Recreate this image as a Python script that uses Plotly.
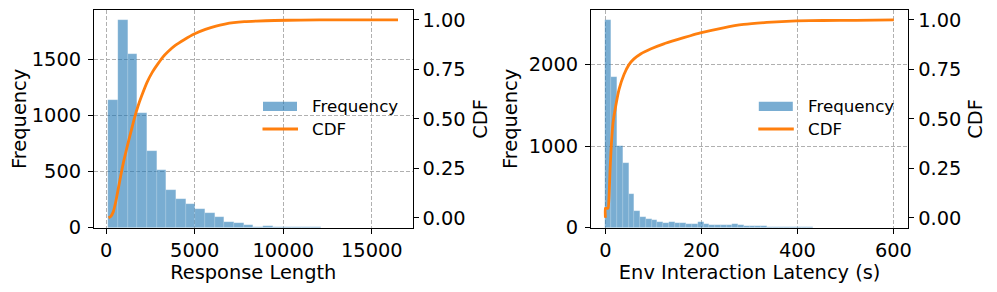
import numpy as np
import plotly.graph_objects as go

# ---------------- Data ----------------
# Left panel: Response Length
resp_range = [130, 16480]          # histogram data range (min, max)
resp_counts = [1133, 1846, 1543, 1018, 685, 513, 336, 252, 211, 166,
               131, 95, 48, 45, 21, 9, 15, 6, 6, 3,
               2, 2, 1, 1, 1, 1, 0, 0, 0, 1]
resp_cdf_x = [130, 250, 400, 550, 700, 850, 1000, 1200, 1400, 1600, 1800,
              2000, 2300, 2600, 2900, 3200, 3500, 3900, 4400, 5000, 5600,
              6200, 6700, 7200, 7800, 8500, 9500, 11000, 13000, 16480]
resp_cdf_y = [0.0, 0.006, 0.03, 0.085, 0.155, 0.225, 0.29, 0.365, 0.435, 0.505,
              0.565, 0.615, 0.683, 0.735, 0.775, 0.812, 0.84, 0.871, 0.90, 0.93,
              0.952, 0.969, 0.979, 0.986, 0.991, 0.994, 0.997, 0.999, 1.0, 1.0]

# Right panel: Env Interaction Latency (s)
lat_range = [0, 601]
lat_counts = [2539, 1845, 996, 788, 408, 204, 135, 102, 94, 73,
              61, 65, 57, 53, 49, 49, 65, 41, 33, 29,
              33, 33, 41, 29, 24, 20, 20, 16, 12, 12,
              8, 8, 4, 4, 4, 4, 2, 2, 1, 1,
              1, 1, 1, 0, 1, 0, 0, 1, 0, 1]
lat_cdf_x = [0, 0, 5.5, 7.6, 9.7, 12.4, 15.9, 21.4, 28.4, 38.7, 49.1, 59.5,
             73.3, 94, 121.7, 149.4, 177, 197.8, 246, 288, 336, 398, 453, 522, 601]
lat_cdf_y = [0.0, 0.048, 0.048, 0.111, 0.246, 0.372, 0.481, 0.564, 0.649, 0.724,
             0.774, 0.803, 0.828, 0.853, 0.879, 0.90, 0.92, 0.934, 0.96, 0.977,
             0.987, 0.995, 0.997, 0.998, 1.0]

# Ticks
resp_xticks = [0, 5000, 10000, 15000]
resp_yticks = [0, 500, 1000, 1500]
lat_xticks = [0, 200, 400, 600]
lat_yticks = [0, 1000, 2000]
cdf_ticks = [0.0, 0.25, 0.5, 0.75, 1.0]

# ---------------- Styling ----------------
OFF = 8                      # page body margin of the html page
W, H = 997 - 2 * OFF, 292 - 2 * OFF
BAR = "rgba(31,119,180,0.6)"
ORANGE = "#ff7f0e"
FONT = dict(family="DejaVu Sans", size=19.4, color="black")
LEGFONT = dict(family="DejaVu Sans", size=16.7, color="black")
GRID = dict(showgrid=True, gridcolor="#b0b0b0", gridwidth=0.8, griddash="4px,2px")
AX = dict(showline=True, linecolor="black", linewidth=1.1, ticks="outside",
          ticklen=5, tickwidth=1.1, tickcolor="black", zeroline=False,
          tickfont=FONT, title_font=FONT, exponentformat="none", automargin=False)


def centers(rng, counts):
    edges = np.linspace(rng[0], rng[1], len(counts) + 1)
    return (edges[:-1] + edges[1:]) / 2, edges[1] - edges[0]


def hx(p):
    return (p - OFF) / W


def hy(p):
    return 1 - (p - OFF) / H


rc, rw = centers(resp_range, resp_counts)
lc, lw = centers(lat_range, lat_counts)

BAR_LINE = dict(width=0.4, color="rgba(255,255,255,0.35)")

fig = go.Figure()
fig.add_trace(go.Bar(x=rc, y=resp_counts, width=rw, name="Frequency",
                     marker=dict(color=BAR, line=BAR_LINE), xaxis="x", yaxis="y"))
fig.add_trace(go.Scatter(x=resp_cdf_x, y=resp_cdf_y, mode="lines", name="CDF",
                         line=dict(color=ORANGE, width=2.8, shape="spline", smoothing=0.6),
                         xaxis="x", yaxis="y2"))
fig.add_trace(go.Bar(x=lc, y=lat_counts, width=lw, name="Frequency",
                     marker=dict(color=BAR, line=BAR_LINE), xaxis="x2", yaxis="y3"))
fig.add_trace(go.Scatter(x=lat_cdf_x, y=lat_cdf_y, mode="lines", name="CDF",
                         line=dict(color=ORANGE, width=2.8, shape="spline", smoothing=0.4),
                         xaxis="x2", yaxis="y4"))

ydom = [hy(227.7), hy(10)]
L = [94, 412.5]
R = [591, 908.3]


def pad_range(rng, frac=0.05):
    d = rng[1] - rng[0]
    return [rng[0] - frac * d, rng[1] + frac * d]


fig.update_layout(
    width=W, height=H, autosize=False,
    margin=dict(l=0, r=0, t=0, b=0),
    paper_bgcolor="white", plot_bgcolor="white",
    showlegend=False, bargap=0, font=FONT,
    xaxis=dict(domain=[hx(L[0]), hx(L[1])], anchor="y", range=pad_range(resp_range),
               tickvals=resp_xticks, ticktext=[str(t) for t in resp_xticks],
               mirror=True, title=dict(text="Response Length", standoff=5), **GRID, **AX),
    yaxis=dict(domain=ydom, anchor="x", range=[0, max(resp_counts) * 1.05],
               tickvals=resp_yticks, ticktext=[str(t) for t in resp_yticks],
               ticklabelstandoff=3,
               title=dict(text="Frequency", standoff=5), **GRID, **AX),
    yaxis2=dict(overlaying="y", side="right", anchor="x", range=[-0.05, 1.05],
                tickvals=cdf_ticks, ticktext=[f"{t:.2f}" for t in cdf_ticks],
                showgrid=False, title=dict(text="CDF", standoff=8), **AX),
    xaxis2=dict(domain=[hx(R[0]), hx(R[1])], anchor="y3", range=pad_range(lat_range),
                tickvals=lat_xticks, ticktext=[str(t) for t in lat_xticks],
                mirror=True, title=dict(text="Env Interaction Latency (s)", standoff=5),
                **GRID, **AX),
    yaxis3=dict(domain=ydom, anchor="x2", range=[0, max(lat_counts) * 1.05],
                tickvals=lat_yticks, ticktext=[str(t) for t in lat_yticks],
                ticklabelstandoff=3,
                title=dict(text="Frequency", standoff=5), **GRID, **AX),
    yaxis4=dict(overlaying="y3", side="right", anchor="x2", range=[-0.05, 1.05],
                tickvals=cdf_ticks, ticktext=[f"{t:.2f}" for t in cdf_ticks],
                showgrid=False, title=dict(text="CDF", standoff=8), **AX),
)

# Manual legends (matplotlib style, frameless)
shapes = []
annos = []
for right_edge in (L[1], R[1]):
    x0 = right_edge - 149.5
    shapes.append(dict(type="rect", xref="paper", yref="paper",
                       x0=hx(x0), x1=hx(x0 + 34), y0=hy(111), y1=hy(101.7),
                       fillcolor=BAR, line=dict(width=0), layer="above"))
    shapes.append(dict(type="line", xref="paper", yref="paper",
                       x0=hx(x0 - 0.5), x1=hx(x0 + 35), y0=hy(129), y1=hy(129),
                       line=dict(color=ORANGE, width=2.8), layer="above"))
    annos.append(dict(text="Frequency", xref="paper", yref="paper", x=hx(x0 + 47),
                      y=hy(106.3), xanchor="left", yanchor="middle", showarrow=False,
                      font=LEGFONT))
    annos.append(dict(text="CDF", xref="paper", yref="paper", x=hx(x0 + 47),
                      y=hy(129), xanchor="left", yanchor="middle", showarrow=False,
                      font=LEGFONT))
fig.update_layout(shapes=shapes, annotations=annos)

fig.write_html("out.html")
